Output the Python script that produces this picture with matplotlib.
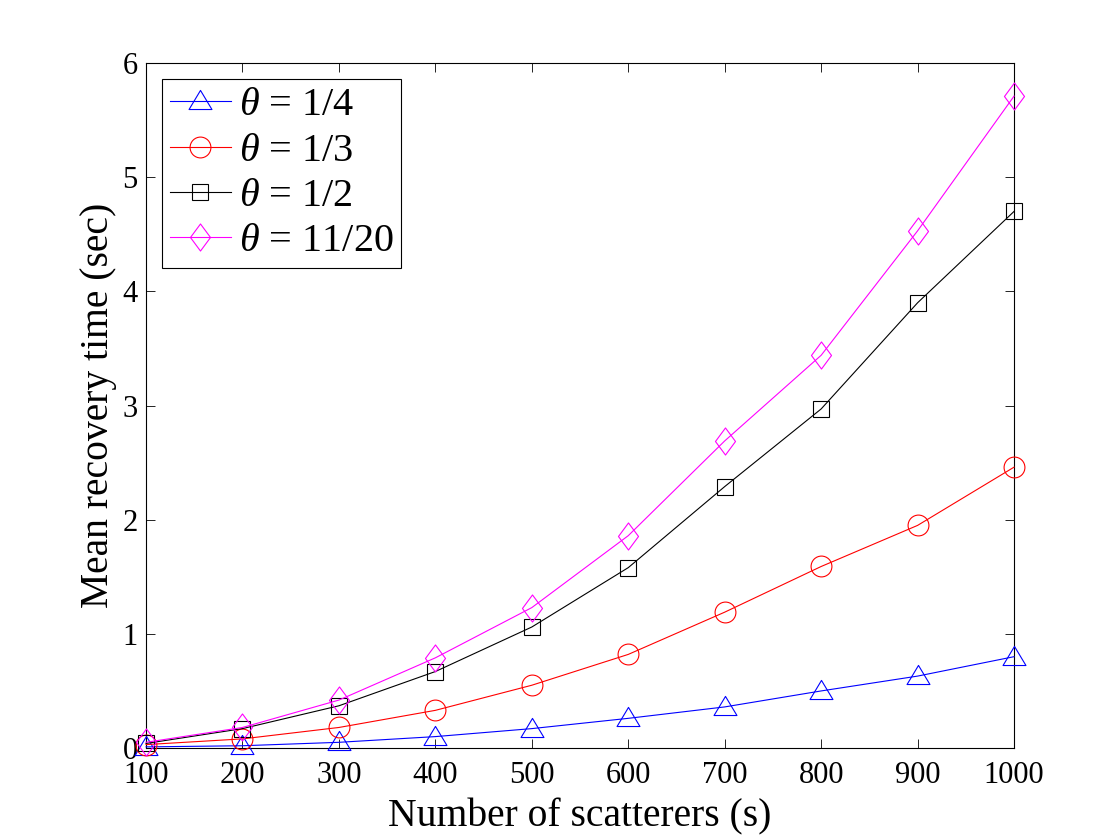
import matplotlib
matplotlib.use("Agg")
import matplotlib.pyplot as plt
from matplotlib.path import Path
import numpy as np

plt.rcParams['font.family'] = ['Liberation Serif', 'DejaVu Serif']
plt.rcParams['mathtext.fontset'] = 'custom'
plt.rcParams['mathtext.it'] = 'Liberation Serif:italic'
plt.rcParams['mathtext.rm'] = 'Liberation Serif'

scatterers = [100, 200, 300, 400, 500, 600, 700, 800, 900, 1000]
theta_1_4 = [0.01, 0.02, 0.05, 0.10, 0.17, 0.26, 0.36, 0.50, 0.63, 0.80]
theta_1_3 = [0.03, 0.08, 0.18, 0.33, 0.55, 0.82, 1.19, 1.59, 1.95, 2.46]
theta_1_2 = [0.04, 0.17, 0.37, 0.67, 1.06, 1.58, 2.29, 2.97, 3.90, 4.70]
theta_11_20 = [0.05, 0.18, 0.42, 0.79, 1.23, 1.86, 2.69, 3.44, 4.53, 5.71]
labels = [r'$\theta$ = 1/4', r'$\theta$ = 1/3', r'$\theta$ = 1/2', r'$\theta$ = 11/20']

tri = Path([(-0.6, -0.42), (0.6, -0.42), (0.0, 0.58), (-0.6, -0.42)],
           [Path.MOVETO, Path.LINETO, Path.LINETO, Path.CLOSEPOLY])
dia = Path([(0.0, 1.0), (0.74, 0.0), (0.0, -1.0), (-0.74, 0.0), (0.0, 1.0)],
           [Path.MOVETO, Path.LINETO, Path.LINETO, Path.LINETO, Path.CLOSEPOLY])

fig = plt.figure(figsize=(11.2, 8.4), dpi=100)
ax = fig.add_axes([0.1304, 0.1095, 0.775, 0.8155])

styles = [
    (theta_1_4, (0, 0, 1), tri, 16.5),
    (theta_1_3, (1, 0, 0), 'o', 15),
    (theta_1_2, (0, 0, 0), 's', 12),
    (theta_11_20, (1, 0, 1), dia, 19.5),
]
for (vals, col, mk, ms), lab in zip(styles, labels):
    ax.plot(scatterers, vals, color=col, marker=mk, markersize=ms,
            markerfacecolor='none', markeredgecolor=col, markeredgewidth=0.8,
            linewidth=0.8, label=lab, clip_on=False, zorder=3)

ax.set_xlim(100, 1000)
ax.set_ylim(0, 6)
ax.set_xticks(scatterers)
ax.set_yticks([0, 1, 2, 3, 4, 5, 6])
ax.tick_params(direction='in', length=6.5, width=0.6, top=True, right=True,
               labelsize=22)
ax.tick_params(axis='x', pad=9)
ax.tick_params(axis='y', pad=6)
for s in ax.spines.values():
    s.set_linewidth(0.8)
ax.set_xlabel('Number of scatterers (s)', fontsize=28.5, labelpad=6)
ax.set_ylabel('Mean recovery time (sec)', fontsize=28.5, labelpad=4)

leg = ax.legend(loc='upper left', fontsize=29, frameon=True, fancybox=False,
                edgecolor='black', framealpha=1, borderpad=0.2,
                handlelength=1.5, handletextpad=0.2, labelspacing=0.2,
                borderaxespad=0.4)
leg.get_frame().set_linewidth(0.8)
leg.set_zorder(5)

fig.savefig('out.png', dpi=100)
